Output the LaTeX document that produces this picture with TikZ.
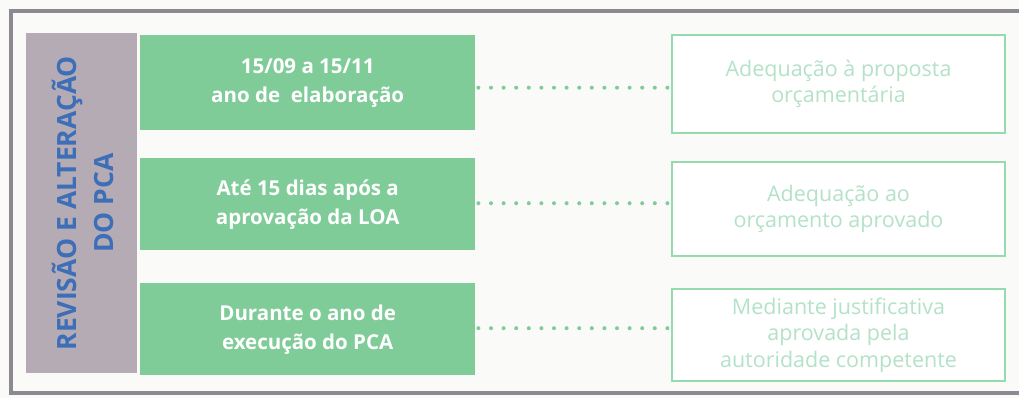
\documentclass[tikz,border=0pt]{standalone}
\usepackage{fontspec}
\setmainfont{Open Sans}
\definecolor{bgc}{HTML}{FAFAF8}
\definecolor{framec}{HTML}{8E8892}
\definecolor{purplec}{HTML}{B5ABB5}
\definecolor{labelc}{HTML}{3D6EB8}
\definecolor{greenc}{HTML}{80CC98}
\definecolor{lineg}{HTML}{96DAB0}
\definecolor{textg}{HTML}{B4E2C9}
\definecolor{dotc}{HTML}{7FCB9A}
\tikzset{
  greenbox/.style={fill=greenc, draw=none, minimum width=335pt, anchor=north west,
    text=white, align=center, font=\bfseries\fontsize{20.5}{29}\selectfont, inner sep=0pt},
  outbox/.style={draw=lineg, line width=2pt, fill=white, minimum width=333pt, anchor=north west,
    text=textg, align=center, font=\fontsize{21.5}{26.5}\selectfont, inner sep=0pt},
  dotline/.style={dotc, line width=4pt, line cap=round, dash pattern=on 0pt off 12.6pt}
}
\begin{document}
\begin{tikzpicture}[x=1pt,y=-1pt]
\useasboundingbox (0,0) rectangle (1019,398);
\clip (0,0) rectangle (1019,398);
\fill[bgc] (0,0) rectangle (1019,398);
\draw[framec, line width=4pt] (11,11) rectangle (1040,393);
\node[fill=purplec, minimum width=111pt, minimum height=340pt, anchor=north west, inner sep=0pt] (lab) at (26,33) {};
\node[rotate=90, text=labelc, align=center, font=\bfseries\fontsize{26.5}{37}\selectfont] (labt) at ([xshift=1pt]lab.center) {REVISÃO E ALTERAÇÃO\\DO PCA};
\node[greenbox, minimum height=95pt] (g1) at (140,35) {15/09 a 15/11\\ano de\ \ elaboração};
\node[greenbox, minimum height=92pt] (g2) at (140,158) {Até 15 dias após a\\aprovação da LOA};
\node[greenbox, minimum height=92pt] (g3) at (140,283) {Durante o ano de\\execução do PCA};
\node[outbox, minimum height=98pt] (r1) at (671,34) {Adequação à proposta\\orçamentária};
\node[outbox, minimum height=94pt] (r2) at (671,161) {Adequação ao\\orçamento aprovado};
\node[outbox, minimum height=92pt] (r3) at (671,288) {Mediante justificativa\\aprovada pela\\autoridade competente};
\draw[dotline] ([xshift=3pt,yshift=-5pt]g1.east) -- ([xshift=-3pt,yshift=-5pt]g1.east -| r1.west);
\draw[dotline] ([xshift=3pt,yshift=1pt]g2.east) -- ([xshift=-3pt,yshift=1pt]g2.east -| r2.west);
\draw[dotline] ([xshift=3pt,yshift=1pt]g3.east) -- ([xshift=-3pt,yshift=1pt]g3.east -| r3.west);
\end{tikzpicture}
\end{document}
